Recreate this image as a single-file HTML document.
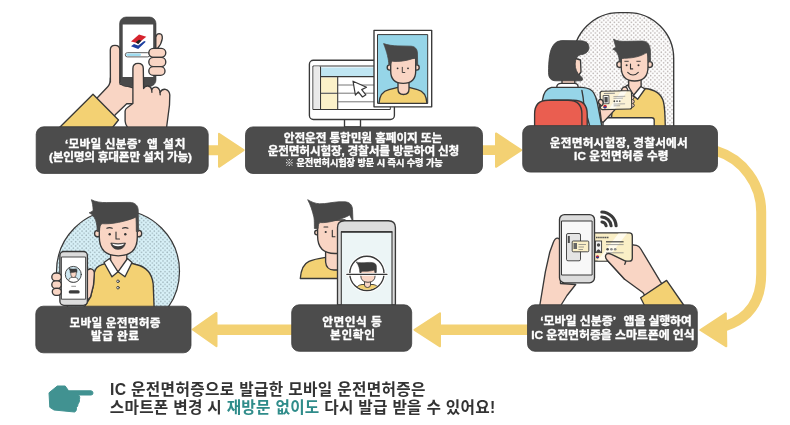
<!DOCTYPE html>
<html lang="ko">
<head>
<meta charset="utf-8">
<title>모바일 운전면허증 발급 절차</title>
<style>
html,body{margin:0;padding:0;background:#fff;}
body{width:790px;height:425px;overflow:hidden;position:relative;}
#art{position:absolute;left:0;top:0;width:790px;height:425px;display:block;will-change:transform;font-family:"Liberation Sans","Noto Sans CJK KR","NanumGothic",sans-serif;}
.o{stroke:#383838;stroke-width:1.35;stroke-linejoin:round;stroke-linecap:round;}
.sk{fill:#f9d5c4;}
.ye{fill:#f3d173;}
.dk{fill:#4a4a4a;}
.t{fill:#fff;stroke:#fff;stroke-width:0.35px;stroke-linejoin:round;font-weight:700;font-size:11.7px;text-anchor:middle;}
.n{fill:#333;font-weight:700;font-size:15.700px;}
</style>
</head>
<body>
<svg id="art" width="790" height="425" viewBox="0 0 790 425">
<defs>
<pattern id="dotsB" width="4.26" height="4.26" patternUnits="userSpaceOnUse"><rect width="4.26" height="4.26" fill="#d8f1f8"/><circle cx="1.06" cy="1.06" r="0.78" fill="#9db3ba"/><circle cx="3.19" cy="3.19" r="0.78" fill="#9db3ba"/></pattern>
<pattern id="dotsG" width="4.26" height="4.26" patternUnits="userSpaceOnUse"><rect width="4.26" height="4.26" fill="#fefefe"/><circle cx="1.06" cy="1.06" r="0.78" fill="#b9b2b0"/><circle cx="3.19" cy="3.19" r="0.78" fill="#b9b2b0"/></pattern>
</defs>
<g id="arrows" fill="#f3d173" stroke="#f3d173" stroke-width="2" stroke-linejoin="round">
<path d="M207 146.200h12v-12.400l24.600 16.300-24.600 16.700v-12.600h-12z"/>
<path d="M481 146.300h15v-12.900l25.200 16.700-25.200 16.700v-12.700h-15z"/>
<path d="M529 325.600h-89v-12.300l-25.500 16.500 25.500 16.500v-12.400h89z"/>
<path d="M293 325.600h-76.500v-12.700l-23.800 16.600 23.800 16.700v-12.300h76.500z"/>
<path d="M716 150.800 A64 64 0 0 1 761.200 212 L761.200 274 C761.200 300 750 318 725 326.200" fill="none" stroke-width="10"/>
<path d="M700.300 330 L725.800 313.300 L726.300 346.300z"/>
</g>
<g id="s1">
<!-- left palm -->
<path class="sk o" d="M98.500 96.500 L107.500 87 Q110.500 84 110.400 78 L119.700 78 L120 84 L134 88 L134 103.7 L126.7 103.7 L115.2 114.8 L113 118 L95 100 Z"/>
<!-- sleeve -->
<path class="ye o" d="M93 94.300 L118.500 120 L112.500 127.500 L59.500 127.500 Z"/>
<!-- phone -->
<rect x="119.600" y="17" width="36.400" height="69.500" rx="6.500" fill="#4a4a4a" stroke="#3a3a3a" stroke-width="0.600"/>
<rect x="122.700" y="24.500" width="30.500" height="52.500" fill="#fff"/>
<!-- logo -->
<path d="M131 41.400 L139 34.600 L146.300 36.700 L138.200 43.200 Z" fill="#d6232d"/>
<path d="M135.700 42.300 L139 39.700 L141.600 40.500 L138.200 44.300 Z" fill="#222"/>
<path d="M131 46.200 L134 43.900 L138.200 45.600 L144.200 41 L145.800 41.800 L138.200 49 Z" fill="#1d3fa0"/>
<!-- progress -->
<rect x="125.300" y="52.700" width="24.500" height="4.200" rx="2.100" fill="#fff" stroke="#4a4a4a" stroke-width="0.900"/>
<rect x="126.200" y="53.500" width="14.800" height="2.600" rx="1.300" fill="#9fdcf0"/>
<!-- left thumb -->
<path class="sk o" d="M110.400 82 L110.300 50 Q110.300 45.400 115 45.400 Q119.800 45.400 119.800 50 L119.800 82"/>
<!-- fingers right side -->
<path class="sk o" d="M155.800 37.500 Q156.500 33.600 159.300 33.600 Q162.600 33.800 162.300 38.500 Q161.500 44 157.500 48.500 L155.800 48.500 Z"/>
<rect class="sk o" x="148.800" y="48.300" width="17" height="9" rx="4.500"/>
<rect class="sk o" x="148.800" y="57.300" width="17" height="9.300" rx="4.600"/>
<rect class="sk o" x="148.800" y="66.600" width="16.200" height="8.800" rx="4.400"/>
<!-- pointing hand -->
<path class="sk o" d="M132.900 68.500 Q132.900 63.300 138.100 63.300 Q143.300 63.300 143.300 68.500 L143.600 88.500 Q145 85.600 148 86 Q151.200 86.500 151.700 89.800 Q153 86.800 156 87.200 Q159.500 87.800 160 92.300 Q162 88.800 165.500 89.300 Q169.500 90.300 169.800 95 L169.500 105 L166.500 128 L127.8 128 Q125.1 124 125.1 121 L125.1 111 Q125.3 108.6 127.5 107.5 L132.9 103.5 Z"/>
<path class="o" fill="none" d="M151.700 89.800 L151.900 92.300 M160 92.300 L160.200 94.800"/>
</g>
<g id="s2">
<!-- monitor -->
<rect x="344.500" y="118" width="16" height="9" fill="#fff" class="o"/>
<rect x="309.400" y="60.200" width="85" height="59.300" rx="4" fill="#fff" class="o"/>
<rect x="313.300" y="66" width="77" height="43.500" fill="#fff" class="o" style="stroke-width:1"/>
<rect x="313.800" y="66.500" width="5.500" height="42.500" fill="#e9e9e9"/>
<rect x="320.500" y="67.500" width="56" height="8.800" fill="#c0e6f3"/>
<rect x="320.800" y="77.500" width="16.700" height="15.200" fill="#fbf1c9"/>
<rect x="320.800" y="94" width="16.700" height="15" fill="#fbf1c9"/>
<path d="M320.500 76.600H376 M320.500 93.200H337.700 M337.700 76.600V109 M320.500 66.500V109" fill="none" stroke="#383838" stroke-width="1.100"/>
<path d="M338 85H376 M338 93.200H376 M338 101.800H376" fill="none" stroke="#666" stroke-width="0.900"/>
<path d="M353 81.200 L366.500 87.300 L361.700 89.600 L365.900 94.800 L362.500 97 L358.300 91.800 L355.400 95 Z" fill="#fff" class="o" style="stroke-width:1.200"/>
<!-- photo frame -->
<rect x="374" y="30.300" width="57.700" height="76.500" fill="#fff" class="o"/>
<rect x="377.900" y="34.600" width="49.800" height="68.800" fill="#96d5e8" class="o" style="stroke-width:1"/>
<!-- person -->
<path class="ye o" d="M378.900 103.400 C379.500 95 383 91 389 89.600 L398 87.300 L409 87.300 L417.500 89.600 C423.500 91 426.400 95 427 103.400 Z"/>
<path class="sk o" d="M398 80 L398 89 Q398 94.500 403.500 94.500 Q409 94.500 409 89 L409 80 Z"/>
<circle class="sk o" cx="389.800" cy="67.500" r="2.600"/>
<circle class="sk o" cx="416.600" cy="67.500" r="2.600"/>
<path class="sk o" d="M390.700 58 L390.700 71 Q390.700 83.300 403.200 83.300 Q415.700 83.300 415.700 71 L415.700 58 Z"/>
<path d="M383.600 43.600 C387.500 45 393 45.900 398 45.900 L411 46.200 C415 46.400 417.300 49 417.400 53 L417.700 64.500 L415.800 64.500 C415.800 61 415.700 59 415.300 57.500 C409 60.500 399 62 392.400 61.200 C391.300 61.800 390.900 63 390.700 64.500 L388.800 64.500 C388.800 60 387 52 383.600 43.600 Z" fill="#484848" stroke="#484848" stroke-width="0.800" stroke-linejoin="round"/>
<circle cx="397.600" cy="68.300" r="0.900" fill="#333"/>
<circle cx="408" cy="68.300" r="0.900" fill="#333"/>
<path d="M402.300 67.300 V72.500 H404.800" fill="none" stroke="#333" stroke-width="0.900" stroke-linecap="round" stroke-linejoin="round"/>
</g>
<g id="s3">
<!-- arch -->
<path d="M573.3 127 V58.6 A46 46 0 0 1 619.3 12.6 H627.7 A46 46 0 0 1 673.7 58.6 V127 Z" fill="url(#dotsG)" class="o"/>
<!-- clerk shirt -->
<path class="ye o" d="M611.500 118 L613 101 C616 93 622 89.500 628 88 L645 88.500 C655 89.500 661.500 94 663.500 102 Q665 108 665.300 127 L611.500 127 Z"/>
<!-- neck -->
<path class="sk o" d="M628.800 76 L628.600 90 L633.500 96 L637.500 98.500 L641.200 88 L641 76 Z"/>
<!-- collar -->
<path d="M627.500 85 L623 88.800 L631 97 L634.500 96.500 Z" fill="#fff" class="o"/>
<path d="M640.800 86.500 L645 89 L637.600 99.300 L633.300 95.500 Z" fill="#fff" class="o"/>
<!-- ears+face -->
<circle class="sk o" cx="619.700" cy="64.600" r="2.900"/>
<circle class="sk o" cx="649.600" cy="64.600" r="2.900"/>
<path class="sk o" d="M621.200 52 L621.200 67 Q621.200 81 634.600 81 Q648 81 648 67 L648 52 Z"/>
<path d="M613.500 39.200 C617 41.200 622 41.500 627 41.300 L642 41 C645.500 41 648 42.500 649.300 45.500 C650.500 48.500 650.600 52 650.500 61 L648.300 61 C648.300 57 648 54.500 646.500 52.600 C641 56.500 633 58 626 58.200 C623.500 58.300 622 58.500 621.300 59 L621.200 61.500 L619.300 61.500 C619 56 617.500 51.500 612.800 49.100 C615 48 615.800 47.500 615.600 46.500 C615.200 44.500 614.500 42 613.500 39.200 Z" fill="#484848" stroke="#484848" stroke-width="0.800" stroke-linejoin="round"/>
<circle cx="626.600" cy="65.200" r="1" fill="#333"/>
<circle cx="638.500" cy="65.200" r="1" fill="#333"/>
<path d="M624.800 61.300 H628.300 M636.800 61.300 H640.300" fill="none" stroke="#333" stroke-width="0.900" stroke-linecap="round"/>
<path d="M630.500 64 V68.900 H632.700 M627.700 72.300 Q633 77.800 638.300 72.300" fill="none" stroke="#333" stroke-width="1.100" stroke-linecap="round" stroke-linejoin="round"/>
<!-- desk -->
<path d="M603 127 V120 Q603 117.700 605.500 117.700 H651.700 Q654.200 117.700 654.200 120 V127 Z" fill="#fff" class="o"/>
<!-- woman body -->
<path d="M542 127 L542.500 100 C543.500 92 546.500 88.500 551.500 87.300 L582 87.300 C588 87.800 591.500 89 593.500 92.500 C595.300 95.500 596.500 98.500 597.200 102 L602 127 Z" fill="#96d5e8" class="o"/>
<path d="M581.900 90.500 Q583.300 97 583.900 104.800 L590 127" fill="none" class="o"/>
<rect x="562" y="78" width="12.800" height="7" class="sk o"/>
<path d="M556.700 87.300 Q557 83.400 561 83.400 L574.500 83.400 Q578 83.400 578.200 87.300 Z" fill="#fff" class="o"/>
<!-- woman forearm/hand -->
<path class="sk o" d="M598.800 101 L615.300 109.400 L603.500 122 L601.500 122 Z"/>
<!-- clerk thumb peeking above card -->
<path class="sk o" d="M621.500 91.500 Q621.500 87.500 624.500 86.800 Q627.500 86.800 628 91.500 Z"/>
<!-- clerk fingers at right of card -->
<path class="sk o" d="M631 95.500 Q634 95.500 634 97.500 Q634 99.300 632.500 99.500 Q634.300 99.800 634.300 101.500 Q634.300 103.300 632.500 103.500 Q634.300 103.800 634.300 105.500 Q634.300 107.500 631 107.500 Z" style="stroke-width:1"/>
<!-- card -->
<g transform="rotate(-1.200 616 100)">
<rect x="600.300" y="91" width="31.300" height="18.300" rx="2" fill="#fbf1d4" class="o" style="stroke-width:1.100"/>
<path d="M621 91.700 L627 91.700 L615 108.600 L609 108.600 Z" fill="#fff" opacity="0.700"/>
<rect x="603.200" y="95.300" width="5.800" height="8.200" fill="#f4f4f4" stroke="#3c3c3c" stroke-width="0.800"/>
<rect x="604.500" y="96.800" width="3.200" height="5.400" fill="#4a4a4a"/>
<path d="M604 93.300H615" stroke="#8a8a8a" stroke-width="1" fill="none"/>
<path d="M613.500 96.500H625.300 M613.500 98.300H623 M613.500 104H625 M613.500 105.800H620" stroke="#9a9a9a" stroke-width="0.800" fill="none"/>
<circle cx="614.300" cy="101.200" r="0.900" fill="#444"/><circle cx="617" cy="101.200" r="0.900" fill="#666"/><circle cx="619.700" cy="101.200" r="0.900" fill="#666"/>
<circle cx="604.900" cy="106.400" r="1.800" fill="#d6232d"/>
<path d="M603.100 106.400 A1.800 1.800 0 0 0 606.700 106.400 Z" fill="#1d3fa0"/>
</g>
<!-- woman thumb over card -->
<path class="sk o" d="M598.600 103 Q598.300 99.300 600.500 99.300 Q603 99.500 603.200 102.500 Q603.300 105 601.500 106 Z"/>
<!-- woman face/hair -->
<path class="sk o" d="M574 58 L580.500 60 L581 72 L578 76 L574 76 Z"/>
<path d="M548.500 72.400 C548.500 62 549.500 52 552 47.600 C554.500 42.500 558 40.600 563 40.600 L581 40.800 C586.500 41 589.500 44 588.800 48.800 C588 52.500 584.500 54.500 580.300 54.700 C577.500 56 576 58 575.600 60.600 C574.500 65 575.500 70 578 73.500 L582 77.500 C583 79.500 582.500 80.800 580.500 80.800 L556 80.800 C550.500 80.800 548.500 77.500 548.500 72.400 Z" fill="#484848" stroke="#3c3c3c" stroke-width="0.800" stroke-linejoin="round"/>
<!-- chair -->
<path d="M540 127 V114 Q540 100.200 553 100.200 H573.500 Q587.200 100.200 587.200 114 V127 Z" fill="#ea5e50" class="o"/>
<path d="M534.600 127 V114 Q534.600 100.200 548 100.200 H568 Q581.900 100.200 581.900 114 V127 Z" fill="#ea5e50" class="o"/>
</g>
<g id="s4">
<!-- nfc -->
<g fill="none" stroke="#3a3a3a" stroke-width="3.1" stroke-linecap="round">
<path d="M601.8 212 A14.8 14.8 0 0 1 616.1 225.800"/>
<path d="M601.8 217 A9.8 9.8 0 0 1 611.1 225.800"/>
<path d="M602 222 A4.8 4.8 0 0 1 606.1 225.800"/>
</g>
<!-- right hand behind card -->
<path class="sk o" d="M630 244.500 L636.500 245.300 Q639 245.800 640.500 248.500 L660.400 281.600 L664 287 L647 299 L643.100 292.800 L624.600 279.200 L607 260 Z"/>
<!-- card -->
<rect x="590" y="232.900" width="42.300" height="28.300" rx="3" fill="#faefc6" class="o"/>
<path d="M618.500 233.600 L627 233.600 L606 260.500 L597.500 260.500 Z" fill="#fffdf3" opacity="0.850"/>
<rect x="595.400" y="241" width="6.200" height="11.600" fill="#f2f2f2" stroke="#383838" stroke-width="0.900"/>
<circle cx="598.500" cy="245" r="1.700" fill="#4a4a4a"/>
<path d="M596 252 Q598.500 246.500 601 252 Z" fill="#4a4a4a"/>
<path d="M596 237.500H609" stroke="#555" stroke-width="1.600" stroke-dasharray="1.600 0.500" fill="none"/>
<path d="M606 241.800H623.600" stroke="#444" stroke-width="1.200" fill="none"/>
<path d="M606 244.600H623.600 M606 252.800H623.600" stroke="#888" stroke-width="0.800" fill="none"/>
<circle cx="607.600" cy="249.200" r="1.300" fill="#4a4a4a"/><circle cx="611.400" cy="249.200" r="1.300" fill="#8a8a8a"/><circle cx="615.200" cy="249.200" r="1.300" fill="#8a8a8a"/>
<circle cx="597.500" cy="256.800" r="1.600" fill="#d6232d"/>
<path d="M595.900 256.800 A1.600 1.600 0 0 0 599.100 256.800 Z" fill="#1d3fa0"/>
<!-- thumb over card -->
<path d="M626 261.300 L611.500 254.300 Q607.300 252.500 605.800 255 Q604.800 257.500 607 260 L624.600 279.200 L634 270 Z" class="sk"/>
<path d="M626 261.300 L611.500 254.300 Q607.300 252.500 605.800 255 Q604.800 257.500 607 260 L624.600 279.200 M625.800 261.500 L624.800 264.300" class="o" fill="none"/>
<!-- sleeve -->
<path class="ye o" d="M640.600 297.700 L666.600 280.400 L684 305.500 L644.500 305.500 Z"/>
<!-- left hand -->
<path class="sk o" d="M539.800 305.500 L545.400 271.700 L549.800 252 L553.300 242.500 Q555 238 557.600 238.200 Q560.500 238.600 560.500 243 L560.500 283.500 L575.700 284.500 L567 295.500 L560.800 305.500 Z"/>
<!-- phone -->
<rect x="559.500" y="214.600" width="35" height="68.200" rx="5" fill="#dcdcdc" class="o"/>
<rect x="561.900" y="221" width="30.200" height="54" fill="#f8f8f8" class="o" style="stroke-width:1"/>
<rect x="566.500" y="233.500" width="14" height="27.300" rx="1.500" fill="#e4e4e4" stroke="#383838" stroke-width="0.900"/>
<rect x="567.800" y="236" width="2" height="7" fill="#4a4a4a"/>
<rect x="572.200" y="241" width="16.600" height="10.800" rx="1" fill="#fbf0c8" stroke="#3c3c3c" stroke-width="0.900"/>
<rect x="573.500" y="243" width="3.500" height="6" fill="#666"/>
<path d="M578.500 244.500H586 M578.500 247H584 M578.500 249.500H583" stroke="#777" stroke-width="0.700"/>
</g>
<g id="s5">
<!-- shirt -->
<path class="ye o" d="M300.300 278.500 C301 269 304 263.500 309 261.300 C313 259.500 319 258.300 325.600 257.300 L340 257.300 L340 278.500 Z"/>
<!-- neck -->
<path class="sk o" d="M325.600 246 L325.600 262 Q326.300 270 334 270 L340 270 L340 246 Z"/>
<!-- ear + face -->
<circle class="sk o" cx="317" cy="232.500" r="2.300"/>
<path class="sk o" d="M317.600 220 L317.600 236 Q317.600 253.500 335 253.500 L345 253.500 L345 220 Z"/>
<!-- hair -->
<path d="M307.700 199.700 C311 201.800 315 203.500 319.500 203.800 C326 204 333 202 339 201.800 L345 201.800 C349.500 202 352.300 205 352.500 209.500 L353 222 L349.700 215 C343 219 328 223.300 320 222.600 C318.700 223.200 318.200 225 318.100 228.500 L314.400 228.500 C314.400 222 314.300 218 313.600 216 C312.500 211 310.500 205 307.700 199.700 Z" fill="#484848" stroke="#484848" stroke-width="0.800" stroke-linejoin="round"/>
<circle cx="325.700" cy="232" r="1.050" fill="#333"/>
<path d="M324 227 H327.800 M332.300 230.300 V236.800 H335" fill="none" stroke="#333" stroke-width="1.100" stroke-linecap="round" stroke-linejoin="round"/>
<!-- phone -->
<path d="M337.500 305 L337.500 227.600 Q337.500 220.700 344.500 220.700 L388.400 220.700 Q395.400 220.700 395.400 227.600 L395.400 305 Z" fill="#dcdcdc" class="o"/>
<path d="M341.300 305 L341.300 231.800 L392 231.800 L392 305 Z" fill="#ecf5f6" class="o" style="stroke-width:1.100"/><path d="M341 231.900 H392.300" stroke="#383838" stroke-width="1.700"/>
<circle cx="366.900" cy="273.400" r="17.300" fill="#fff" stroke="#fff" stroke-width="3"/>
<circle cx="366.900" cy="273.400" r="17.100" fill="#fff" class="o"/>
<!-- mini person -->
<clipPath id="c5"><circle cx="366.900" cy="273.400" r="16.400"/></clipPath>
<g clip-path="url(#c5)">
<path class="ye o" d="M355 292 C355.500 287 358.500 285 362 284.500 L373 284.500 C376.500 285 379 287 379.500 292 Z" style="stroke-width:0.900"/>
<path class="sk o" d="M364.500 280 L364.500 285 Q364.500 287.500 367.500 287.500 Q370.500 287.500 370.500 285 L370.500 280 Z" style="stroke-width:0.900"/>
<path class="sk o" d="M360.700 268 L360.700 275 Q360.700 282.300 368 282.300 Q375.200 282.300 375.200 275 L375.200 268 Z" style="stroke-width:0.900"/>
<path d="M356.200 261.900 C359 263 363 262.800 367 262.500 C371 262.200 374 262.500 375.300 263.800 C376.500 265 376.500 267 376.400 269 L376.300 272.500 L375 272.500 L374.500 270 C371 271.200 365 271.600 362 271.200 L361 272.500 L359.800 272.500 C359.600 268.500 359 265.500 356.200 261.900 Z" fill="#3c3c3c" stroke="#3c3c3c" stroke-width="0.600" stroke-linejoin="round"/>
</g>
<path d="M346.800 274.300 H387" stroke="#fff" stroke-width="2.800" stroke-linecap="round"/>
<path d="M346.800 274.300 H387" stroke="#383838" stroke-width="1.300" stroke-linecap="round"/>
</g>
<g id="s6">
<clipPath id="c6"><rect x="40" y="190" width="150" height="117"/></clipPath>
<g clip-path="url(#c6)">
<circle cx="118" cy="271.500" r="61.500" fill="url(#dotsB)" class="o" style="stroke-width:1.2"/>
<!-- shirt -->
<path class="ye o" d="M82 310 L87 303 L90.500 297 L93.500 285 L94.300 273 C95 268.500 98 266 102 264.700 L110 262 L127 262 L136 264.500 C147 267 152 273 153.200 284 L154.200 310 Z"/>
<!-- neck -->
<path class="sk o" d="M110.600 250 L110.600 264 L118 272 L126.800 264 L126.800 250 Z"/>
<!-- collar -->
<path d="M109.500 258.500 L104 262.500 L112 276.800 L118 271.800 Z" fill="#fff" class="o"/>
<path d="M127.500 258.500 L132 262.500 L125 276.800 L118 271.800 Z" fill="#fff" class="o"/>
<circle cx="118" cy="281.300" r="1.300" fill="#fff" class="o" style="stroke-width:0.900"/>
<circle cx="118" cy="287.700" r="1.300" fill="#fff" class="o" style="stroke-width:0.900"/>
</g>
<!-- ears, face -->
<circle class="sk o" cx="97.800" cy="233.500" r="3.200"/>
<circle class="sk o" cx="138.500" cy="233.500" r="3.200"/>
<path class="sk o" d="M99.300 220 L99.300 237 Q99.300 255.800 118.300 255.800 Q137.300 255.800 137.300 237 L137.300 216 Z"/>
<path d="M91.400 199.700 C95 201.800 101 202.700 106.500 202.600 L130 202.400 C135 202.500 138 205.500 138.200 210 L138.600 231.500 L136.300 231.500 C136.300 224 136.200 220 135.800 217.200 C126 221.500 111 224.500 102 223.700 C100.300 224.500 99.700 227 99.500 231.500 L97.200 231.500 C97.200 223 95.500 216 89.200 212.800 C92 211.800 93.300 210.800 93.100 209.500 C93 206.500 92.500 203 91.400 199.700 Z" fill="#484848" stroke="#484848" stroke-width="0.800" stroke-linejoin="round"/>
<circle cx="109.700" cy="234.200" r="1.200" fill="#333"/>
<circle cx="125.300" cy="234.200" r="1.200" fill="#333"/>
<path d="M106.800 228.300 Q109.500 227 112.300 228.300 M122.500 228.300 Q125.300 227 128 228.300 M116 232 V239 H119.500" fill="none" stroke="#333" stroke-width="1.100" stroke-linecap="round" stroke-linejoin="round"/>
<path d="M110.800 243 Q118 244.500 125.500 243 Q124 249.300 118 249.300 Q112.300 249.300 110.800 243 Z" fill="#3c3c3c" stroke="#3c3c3c" stroke-width="0.800" stroke-linejoin="round"/>
<path d="M112.300 243.800 Q118 245.200 124 243.800 Q123.500 246 118 246.200 Q112.800 246 112.300 243.800 Z" fill="#fff"/>
<!-- thumb -->
<path class="sk o" d="M86 272 Q88 268.600 91 268.800 Q94.600 269.500 94.300 274 L93.500 285 L90.500 297 L86 302 Z"/>
<!-- phone -->
<rect x="59.900" y="251.500" width="27.500" height="53.800" rx="4" fill="#dcdcdc" class="o"/>
<rect x="61.800" y="257" width="23.800" height="42.200" fill="#fff" class="o" style="stroke-width:0.900"/>
<circle cx="73.300" cy="274.400" r="8" fill="#cfe8f2" class="o" style="stroke-width:0.900"/>
<path d="M68.500 280.500 Q69 277.500 72 277.300 L75 277.300 Q78 277.500 78.500 280.500 Q73.500 284 68.500 280.500 Z" fill="#fff" stroke="#3c3c3c" stroke-width="0.700"/>
<path d="M70.800 271.500 V274.500 Q70.800 277.500 73.500 277.500 Q76.200 277.500 76.200 274.500 V271.500 Z" fill="#f9d5c4" stroke="#3c3c3c" stroke-width="0.700"/>
<path d="M69 268.500 Q73 269.500 76.500 268.800 Q77.300 270 77 272.500 L76 271.800 Q73 272.800 71 272.300 L70.300 273 Q70.300 270.500 69 268.500 Z" fill="#3c3c3c" stroke="#3c3c3c" stroke-width="0.500"/>
<path d="M71.300 286.300 H76" stroke="#888" stroke-width="0.900"/>
<rect x="68.700" y="290.300" width="11" height="3.200" rx="1.600" fill="#3c3c3c"/>
<!-- fingers -->
<rect class="sk o" x="51.800" y="273" width="9.500" height="8" rx="4"/>
<rect class="sk o" x="51.800" y="280.800" width="9.500" height="7.700" rx="3.800"/>
<rect class="sk o" x="52.300" y="288.300" width="9" height="7" rx="3.500"/>
</g>
<g id="boxes" fill="#4c4c4c" stroke="#3e3e3e" stroke-width="0.800">
<rect x="36.200" y="126.800" width="172" height="46.600" rx="7.500"/>
<rect x="245.500" y="126.900" width="237" height="46.600" rx="7.500"/>
<rect x="522.700" y="125.600" width="194.800" height="46.500" rx="7.500"/>
<rect x="527.500" y="304.800" width="169.800" height="46.500" rx="7.500"/>
<rect x="291.700" y="304.800" width="120" height="46.500" rx="7.500"/>
<rect x="35.800" y="306.200" width="155.200" height="46.600" rx="7.500"/>
</g>
<g id="labels">
<text class="t" style="text-anchor:start" transform="translate(65 147.5) scale(1 0.94)" x="0" y="0" textLength="76" lengthAdjust="spacing">‘모바일 신분증’</text>
<text class="t" style="text-anchor:start" transform="translate(147 147.5) scale(1 0.94)" x="0" y="0" textLength="38.5" lengthAdjust="spacing">앱 설치</text>
<text class="t" transform="translate(120.500 160.5) scale(1 0.94)" x="0" y="0" textLength="143" lengthAdjust="spacing">(본인명의 휴대폰만 설치 가능)</text>
<text class="t" transform="translate(363 142.2) scale(1 0.94)" x="0" y="0" textLength="158.500" lengthAdjust="spacing">안전운전 통합민원 홈페이지 또는</text>
<text class="t" transform="translate(363.500 155.2) scale(1 0.94)" x="0" y="0" textLength="191.500" lengthAdjust="spacing">운전면허시험장, 경찰서를 방문하여 신청</text>
<text class="t" transform="translate(363.800 165.5) scale(1 0.94)" x="0" y="0" style="font-size:9.200px" textLength="158" lengthAdjust="spacing"><tspan style="font-weight:400;stroke:none">※</tspan> 운전면허시험장 방문 시 즉시 수령 가능</text>
<text class="t" transform="translate(618.800 146.5) scale(1 0.94)" x="0" y="0" textLength="138" lengthAdjust="spacing">운전면허시험장, 경찰서에서</text>
<text class="t" transform="translate(621.300 159.8) scale(1 0.94)" x="0" y="0" textLength="94.500" lengthAdjust="spacing">IC 운전면허증 수령</text>
<text class="t" style="text-anchor:start;font-size:12px" transform="translate(540.2 325.3) scale(1 0.94)" x="0" y="0" textLength="76" lengthAdjust="spacing">‘모바일 신분증’</text>
<text class="t" style="text-anchor:start;font-size:12px" transform="translate(623.6 325.3) scale(1 0.94)" x="0" y="0" textLength="68.3" lengthAdjust="spacing">앱을 실행하여</text>
<text class="t" transform="translate(613 338.9) scale(1 0.94)" x="0" y="0" style="font-size:12px" textLength="163.500" lengthAdjust="spacing">IC 운전면허증을 스마트폰에 인식</text>
<text class="t" transform="translate(352 325.7) scale(1 0.94)" x="0" y="0" textLength="59.500" lengthAdjust="spacing">안면인식 등</text>
<text class="t" transform="translate(352.500 338.8) scale(1 0.94)" x="0" y="0" textLength="45" lengthAdjust="spacing">본인확인</text>
<text class="t" transform="translate(115 326.5) scale(1 0.94)" x="0" y="0" textLength="91" lengthAdjust="spacing">모바일 운전면허증</text>
<text class="t" transform="translate(115 339.8) scale(1 0.94)" x="0" y="0" textLength="48" lengthAdjust="spacing">발급 완료</text>
<text class="n" x="110" y="394.900" textLength="315.500" lengthAdjust="spacing">IC 운전면허증으로 발급한 모바일 운전면허증은</text>
<text class="n" x="109.700" y="412.7" textLength="385.500" lengthAdjust="spacing">스마트폰 변경 시 <tspan fill="#2f8c8a">재방문 없이도</tspan> 다시 발급 받을 수 있어요!</text>
</g>
<g id="hand" fill="#419291" stroke="#419291" stroke-width="1" stroke-linejoin="round">
<path d="M49 392.800 L57.300 386 L65.200 386 L68.600 390.800 L91 390.800 Q93 391 93 393 Q93 395 91 395 L78.500 395 Q80.500 397 79.500 399.500 Q79.800 402 78 404 Q78 406.500 76.500 407.500 Q76.800 411.500 74.500 412 L54 410 L49.800 407.300 Z"/>
</g>
</svg>
</body>
</html>
